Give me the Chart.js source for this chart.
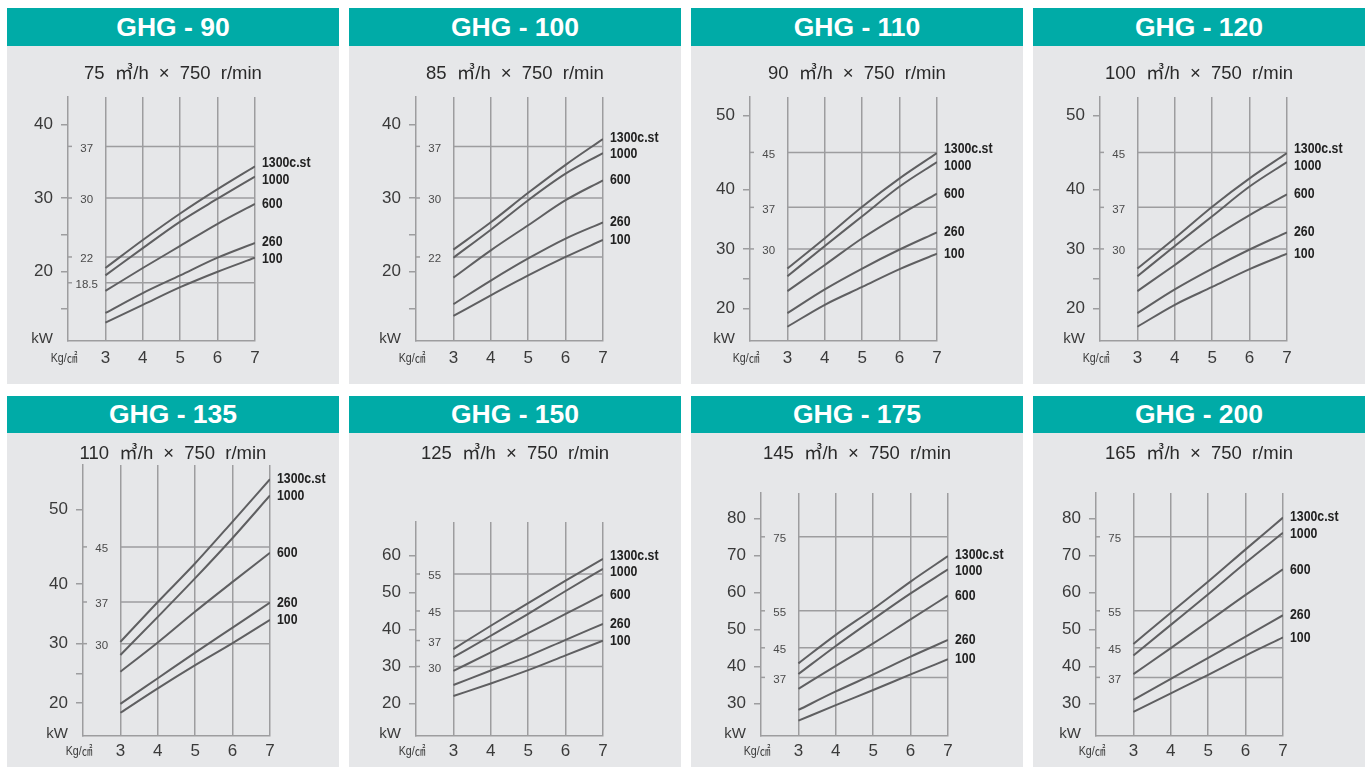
<!DOCTYPE html>
<html>
<head>
<meta charset="utf-8">
<script src="https://cdn.jsdelivr.net/npm/chart.js@4.4.1/dist/chart.umd.min.js"></script>
<style>
  body { margin: 0; background: #fff; }
  #wrap { position: relative; width: 1367px; height: 767px; overflow: hidden; }
  .panel { position: absolute; width: 332px; }
  .head { background: #00aba7; color: #fff; text-align: center; font: bold 26.5px "Liberation Sans", Arial, sans-serif; }
  .body { position: relative; background: #e6e7e9; }
  .title { position: absolute; left: 0; width: 100%; text-align: center; color: #2a2a2a;
           font: 18.5px "Liberation Sans", "Noto Sans CJK KR", sans-serif; word-spacing: 5px; line-height: 20px; }
  canvas { position: absolute; left: 0; top: 0; }
</style>
</head>
<body>
<div id="wrap"></div>
<script>
// x axis: discharge pressure, Kg/㎠
var pressure = [3, 4, 5, 6, 7];
var viscosity = ['1300c.st', '1000', '600', '260', '100'];
var models = ['GHG - 90', 'GHG - 100', 'GHG - 110', 'GHG - 120', 'GHG - 135', 'GHG - 150', 'GHG - 175', 'GHG - 200'];
var flows = [75, 85, 90, 100, 110, 125, 145, 165];

// kW, one row per viscosity (1300, 1000, 600, 260, 100)
var kw90 = [
    [20.5, 24.3, 27.9, 31.2, 34.3],
    [19.5, 23.2, 26.8, 29.9, 32.9],
    [17.4, 20.5, 23.5, 26.5, 29.2],
    [14.4, 17.1, 19.5, 21.9, 23.9],
    [13.1, 15.5, 17.9, 20.0, 21.9]
];
var kw100 = [
    [23.0, 26.7, 30.7, 34.5, 38.0],
    [21.9, 25.7, 29.7, 33.3, 36.1],
    [19.2, 22.9, 26.3, 29.7, 32.4],
    [15.6, 18.8, 21.8, 24.5, 26.7],
    [14.0, 16.8, 19.5, 22.0, 24.3]
];
var kw110 = [
    [26.7, 31.8, 37.1, 41.5, 44.9],
    [25.4, 30.5, 35.5, 40.4, 43.7],
    [22.9, 27.3, 31.8, 35.7, 39.3],
    [19.2, 23.2, 26.7, 29.9, 32.8],
    [16.9, 20.6, 23.6, 26.6, 29.2]
];
var kw120 = [
    [26.7, 31.8, 37.1, 41.5, 44.9],
    [25.4, 30.5, 35.5, 40.4, 43.7],
    [22.9, 27.3, 31.8, 35.7, 39.2],
    [19.2, 23.2, 26.7, 29.9, 32.8],
    [16.9, 20.6, 23.6, 26.6, 29.2]
];
var kw135 = [
    [30.3, 37.0, 42.8, 48.4, 54.1],
    [28.1, 34.5, 40.8, 46.2, 51.9],
    [25.3, 30.2, 35.4, 40.3, 44.2],
    [19.9, 24.2, 28.5, 32.7, 36.9],
    [18.4, 22.5, 26.4, 30.1, 34.0]
];
var kw150 = [
    [34.7, 41.0, 47.1, 53.2, 59.1],
    [32.5, 38.3, 44.2, 50.4, 56.4],
    [28.8, 33.8, 39.0, 44.2, 49.4],
    [25.0, 28.9, 32.8, 37.2, 41.5],
    [22.0, 25.4, 29.0, 33.0, 37.0]
];
var kw175 = [
    [40.8, 48.5, 55.5, 62.9, 69.8],
    [37.9, 45.5, 52.7, 59.7, 66.2],
    [33.9, 40.1, 46.2, 52.7, 59.1],
    [28.2, 33.2, 37.8, 42.6, 47.1],
    [25.3, 29.5, 33.6, 37.8, 41.9]
];
var kw200 = [
    [46.0, 54.5, 62.9, 71.6, 80.2],
    [42.9, 51.2, 59.5, 68.0, 76.1],
    [37.9, 44.9, 52.1, 59.3, 66.2],
    [30.9, 36.6, 42.3, 48.0, 53.8],
    [27.7, 32.7, 37.7, 42.9, 47.8]
];

// motor size reference lines (kW)
var ref90 = [37, 30, 22, 18.5];
var ref100 = [37, 30, 22];
var ref110 = [45, 37, 30];
var ref150 = [55, 45, 37, 30];
var ref175 = [75, 55, 45, 37];

// y tick labels (unlabelled tick marks are given per panel)
var yLabels40 = [20, 30, 40];
var yLabels50 = [20, 30, 40, 50];
var yLabels60 = [20, 30, 40, 50, 60];
var yLabels80 = [30, 40, 50, 60, 70, 80];

var GRID = '#9d9d9f';
var LINE = '#5f5f61';
var TEXT = '#3a3a3a';

// the 110/120/135 sheets draw the part above 40 kW on a 1.25x taller scale
var LinearScale = Chart.LinearScale || Chart.registry.getScale('linear');
class StretchScale extends LinearScale {
    warp(v) {
        var b = this.options.stretchFrom, f = this.options.stretchBy;
        return v > b ? b + (v - b) * f : v;
    }
    getPixelForValue(v) {
        var lo = this.warp(this.min), hi = this.warp(this.max);
        return this.getPixelForDecimal((this.warp(v) - lo) / (hi - lo));
    }
    getValueForPixel(p) {
        var lo = this.warp(this.min), hi = this.warp(this.max);
        var w = lo + this.getDecimalForPixel(p) * (hi - lo);
        var b = this.options.stretchFrom, f = this.options.stretchBy;
        return w > b ? b + (w - b) / f : w;
    }
}
StretchScale.id = 'stretch';
StretchScale.defaults = LinearScale.defaults;
Chart.register(StretchScale);

var panels = [
    {kw: kw90, refs: ref90, labels: yLabels40, minor: [15, 25], min: 10.6, max: 43.7, area: [61, 51, 248, 295]},
    {kw: kw100, refs: ref100, labels: yLabels40, minor: [15, 25], min: 10.6, max: 43.7, area: [67, 51, 254, 295]},
    {kw: kw110, refs: ref110, labels: yLabels50, minor: [25], min: 14.5, max: 52.46, stretch: true, area: [59, 51, 246, 295]},
    {kw: kw120, refs: ref110, labels: yLabels50, minor: [25], min: 14.5, max: 52.46, stretch: true, area: [67, 51, 254, 295]},
    {kw: kw135, refs: ref110, labels: yLabels50, minor: [25], min: 14.5, max: 56.0, stretch: true, area: [76, 32, 263, 303]},
    {kw: kw150, refs: ref150, labels: yLabels60, minor: [], min: 11.2, max: 69.05, area: [67, 89, 254, 303]},
    {kw: kw175, refs: ref175, labels: yLabels80, minor: [], min: 21.16, max: 86.84, area: [70, 60, 257, 303]},
    {kw: kw200, refs: ref175, labels: yLabels80, minor: [], min: 21.16, max: 86.84, area: [63, 60, 250, 303]}
];

var rows = [
    {top: 8, head: 38, body: 338, titleY: 17, xPad: 7},
    {top: 396, head: 37, body: 334, titleY: 10, xPad: 5}
];
var lefts = [7, 349, 691, 1033];

function squeezed(ctx, text, x, y, sx, align) {
    ctx.save();
    ctx.translate(x, y);
    ctx.scale(sx, 1);
    ctx.textAlign = align;
    ctx.fillText(text, 0, 0);
    ctx.restore();
}

var decor = {
    id: 'decor',
    afterDraw: function(chart, args, opts) {
        var ctx = chart.ctx, a = chart.chartArea;
        var x = chart.scales.x, y = chart.scales.y;
        ctx.save();
        ctx.textBaseline = 'middle';

        // motor size marks
        ctx.strokeStyle = GRID;
        ctx.lineWidth = 1.5;
        ctx.fillStyle = '#4a4a4a';
        ctx.font = '11.5px "Liberation Sans"';
        ctx.textAlign = 'center';
        opts.refs.forEach(function(r) {
            var py = y.getPixelForValue(r);
            ctx.beginPath();
            ctx.moveTo(a.left, py);
            ctx.lineTo(a.left + 4, py);
            ctx.stroke();
            ctx.fillText(String(r), x.getPixelForValue(2.5), py + 2);
        });

        // axis units
        ctx.fillStyle = TEXT;
        ctx.font = '15px "Liberation Sans"';
        ctx.textAlign = 'right';
        ctx.fillText('kW', a.left - 15, a.bottom - 2);
        ctx.font = '13px "Liberation Sans", "Noto Sans CJK KR"';
        squeezed(ctx, 'Kg/㎠', a.left - 4, a.bottom + opts.xPad + 10, 0.82, 'center');

        // viscosity names at line ends
        var last = pressure.length - 1;
        var ys = viscosity.map(function(n, k) { return chart.getDatasetMeta(k).data[last].y; });
        var gap = 16.5;
        for (var it = 0; it < 40; it++) {
            for (var k = 0; k < ys.length - 1; k++) {
                var d = ys[k + 1] - ys[k];
                if (d < gap) { ys[k] -= (gap - d) / 2; ys[k + 1] += (gap - d) / 2; }
            }
        }
        ctx.fillStyle = '#222';
        ctx.font = 'bold 15px "Liberation Sans"';
        viscosity.forEach(function(n, k) {
            squeezed(ctx, n, a.right + 7, ys[k], 0.82, 'left');
        });
        ctx.restore();
    }
};

function makeChart(canvas, p, row) {
    var l = p.area[0], t = p.area[1], r = p.area[2], b = p.area[3];
    var datasets = p.kw.map(function(vals, k) {
        return {
            label: viscosity[k],
            data: pressure.map(function(px, j) { return {x: px, y: vals[j]}; }),
            borderColor: LINE, borderWidth: 2, pointRadius: 0,
            cubicInterpolationMode: 'monotone', order: 1
        };
    });
    p.refs.forEach(function(v) {
        datasets.push({
            label: v + ' kW',
            data: [{x: pressure[0], y: v}, {x: pressure[pressure.length - 1], y: v}],
            borderColor: GRID, borderWidth: 1.5, pointRadius: 0, order: 2
        });
    });
    var yTicks = p.labels.concat(p.minor);
    var tickFont = {family: '"Liberation Sans", Arial, sans-serif', size: 17};
    return new Chart(canvas.getContext('2d'), {
        type: 'line',
        data: {datasets: datasets},
        options: {
            responsive: false,
            animation: false,
            layout: {padding: {left: 0, top: t, right: canvas.width - r, bottom: canvas.height - b - 30}},
            plugins: {
                legend: {display: false},
                tooltip: {enabled: false},
                decor: {refs: p.refs, xPad: row.xPad}
            },
            scales: {
                x: {
                    type: 'linear', min: 2, max: 7,
                    afterBuildTicks: function(s) { s.ticks = pressure.map(function(v) { return {value: v}; }); },
                    afterFit: function(s) { s.height = 30; },
                    grid: {color: GRID, lineWidth: 1.5, drawTicks: false},
                    border: {color: GRID, width: 1.5},
                    ticks: {padding: row.xPad, font: tickFont, color: TEXT, autoSkip: false, maxRotation: 0}
                },
                y: {
                    type: p.stretch ? 'stretch' : 'linear',
                    stretchFrom: 40, stretchBy: 1.25,
                    min: p.min, max: p.max,
                    afterBuildTicks: function(s) { s.ticks = yTicks.map(function(v) { return {value: v}; }); },
                    afterFit: function(s) { s.width = l; },
                    grid: {drawOnChartArea: false, tickLength: 7, color: GRID, lineWidth: 1.5},
                    border: {color: GRID, width: 1.5},
                    ticks: {
                        padding: 8, font: tickFont, color: TEXT, autoSkip: false,
                        callback: function(v) { return p.labels.indexOf(v) >= 0 ? String(v) : ''; }
                    }
                }
            }
        },
        plugins: [decor]
    });
}

var wrap = document.getElementById('wrap');
panels.forEach(function(p, i) {
    var row = rows[Math.floor(i / 4)];
    var el = document.createElement('div');
    el.className = 'panel';
    el.style.left = lefts[i % 4] + 'px';
    el.style.top = row.top + 'px';

    var head = document.createElement('div');
    head.className = 'head';
    head.style.height = row.head + 'px';
    head.style.lineHeight = row.head + 'px';
    head.textContent = models[i];

    var body = document.createElement('div');
    body.className = 'body';
    body.style.height = row.body + 'px';

    var title = document.createElement('div');
    title.className = 'title';
    title.style.top = row.titleY + 'px';
    title.textContent = flows[i] + ' ㎥/h × 750 r/min';

    var canvas = document.createElement('canvas');
    canvas.width = 332;
    canvas.height = row.body;

    body.appendChild(canvas);
    body.appendChild(title);
    el.appendChild(head);
    el.appendChild(body);
    wrap.appendChild(el);
    makeChart(canvas, p, row);
});
</script>
</body>
</html>
